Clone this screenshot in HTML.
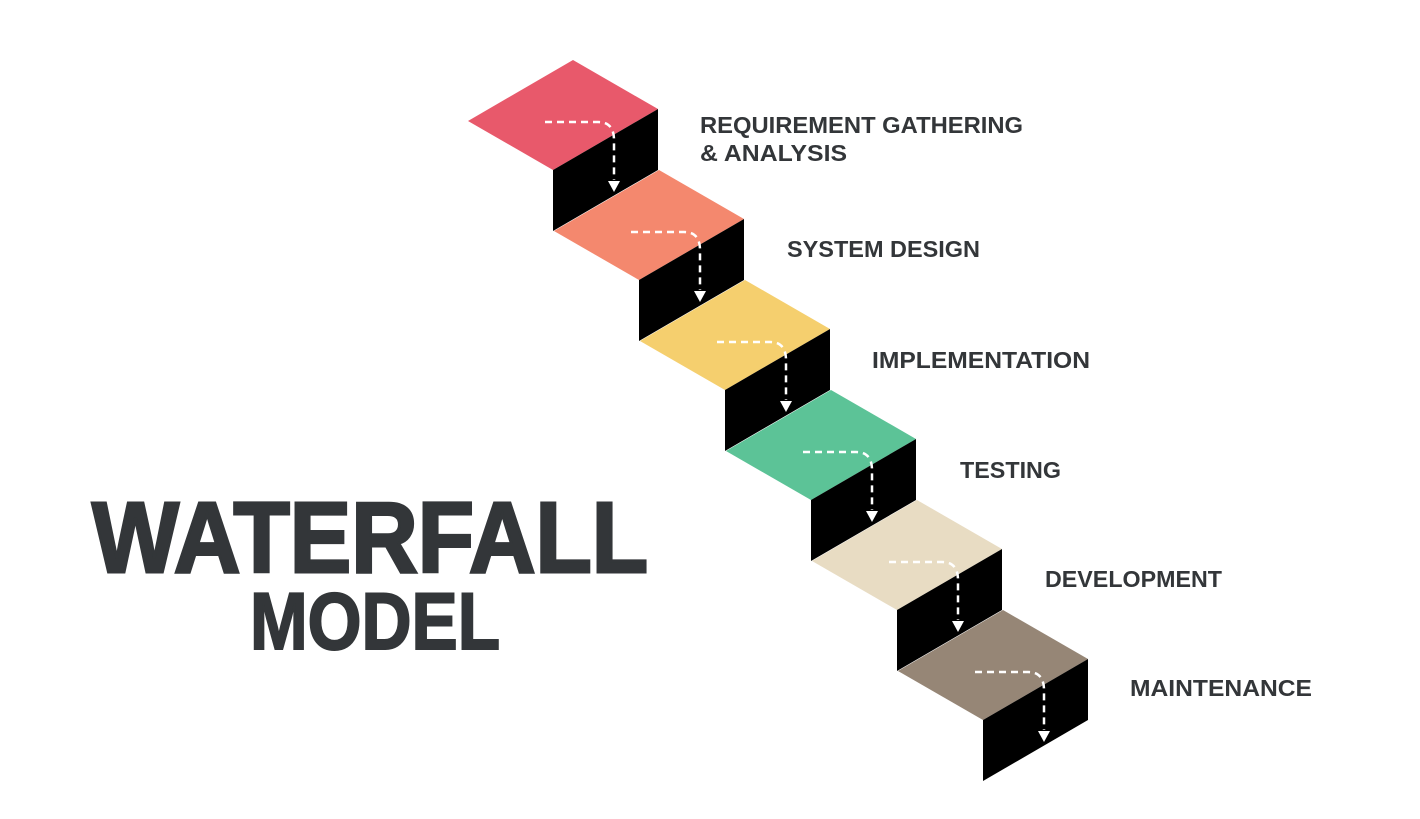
<!DOCTYPE html>
<html><head><meta charset="utf-8"><style>
html,body{margin:0;padding:0;background:#fff;}
svg{display:block;}
</style></head><body>
<svg width="1420" height="819" viewBox="0 0 1420 819" xmlns="http://www.w3.org/2000/svg">
<defs>
<g id="step">
  <polygon points="553,170 658,109 658,170 553,231" fill="#000"/>
</g>
<g id="arr">
  <path d="M545,122 L598,122 Q614,122 614,140 L614,180" fill="none" stroke="#fff" stroke-width="2.5" stroke-dasharray="7,5"/>
  <polygon points="608,181 620,181 614,192" fill="#fff"/>
</g>
</defs>
<g>
  <polygon points="468,121 573,60 658,109 553,170" fill="#e8596b"/>
  <use href="#step"/><use href="#arr"/>
</g>
<g transform="translate(86,110)">
  <polygon points="468,121 573,60 658,109 553,170" fill="#f4886e"/>
  <use href="#step"/><use href="#arr"/>
</g>
<g transform="translate(172,220)">
  <polygon points="468,121 573,60 658,109 553,170" fill="#f5cf6e"/>
  <use href="#step"/><use href="#arr"/>
</g>
<g transform="translate(258,330)">
  <polygon points="468,121 573,60 658,109 553,170" fill="#5cc397"/>
  <use href="#step"/><use href="#arr"/>
</g>
<g transform="translate(344,440)">
  <polygon points="468,121 573,60 658,109 553,170" fill="#e8dcc3"/>
  <use href="#step"/><use href="#arr"/>
</g>
<g transform="translate(430,550)">
  <polygon points="468,121 573,60 658,109 553,170" fill="#968676"/>
  <use href="#step"/><use href="#arr"/>
</g>
<g font-family="Liberation Sans, sans-serif" font-weight="bold" fill="#333639">
  <text x="700" y="133" font-size="23" textLength="323" lengthAdjust="spacingAndGlyphs">REQUIREMENT GATHERING</text>
  <text x="700" y="161" font-size="23" textLength="147" lengthAdjust="spacingAndGlyphs">&amp; ANALYSIS</text>
  <text x="787" y="257" font-size="23" textLength="193" lengthAdjust="spacingAndGlyphs">SYSTEM DESIGN</text>
  <text x="872" y="368" font-size="23" textLength="218" lengthAdjust="spacingAndGlyphs">IMPLEMENTATION</text>
  <text x="960" y="478" font-size="23" textLength="101" lengthAdjust="spacingAndGlyphs">TESTING</text>
  <text x="1045" y="587" font-size="23" textLength="177" lengthAdjust="spacingAndGlyphs">DEVELOPMENT</text>
  <text x="1130" y="696" font-size="23" textLength="182" lengthAdjust="spacingAndGlyphs">MAINTENANCE</text>
  <text x="92" y="572" font-size="100" textLength="556" lengthAdjust="spacingAndGlyphs" stroke="#333639" stroke-width="3">WATERFALL</text>
  <text x="250" y="649" font-size="81" textLength="250" lengthAdjust="spacingAndGlyphs" stroke="#333639" stroke-width="2">MODEL</text>
</g>
</svg>
</body></html>
